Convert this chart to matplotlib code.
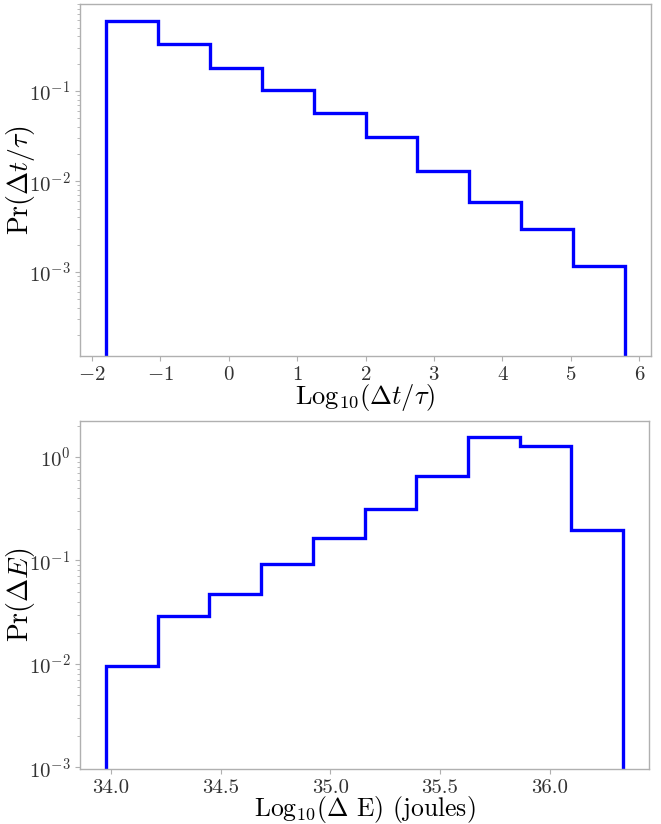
import matplotlib
matplotlib.use('Agg')
import matplotlib.pyplot as plt

# Histogram data (density, log scale)
dt_edges = [-1.79, -1.032, -0.274, 0.484, 1.242, 2.0, 2.758, 3.516, 4.274, 5.032, 5.79]
dt_pr = [0.593, 0.330, 0.179, 0.102, 0.0568, 0.0306, 0.0131, 0.00593, 0.00294, 0.00117]

de_edges = [33.977, 34.213, 34.449, 34.685, 34.921, 35.157, 35.392, 35.628, 35.864, 36.100, 36.336]
de_pr = [0.00963, 0.0290, 0.0469, 0.0915, 0.163, 0.311, 0.651, 1.54, 1.27, 0.198]

plt.rcParams['font.family'] = 'serif'
plt.rcParams['font.serif'] = ['cmr10']
plt.rcParams['mathtext.fontset'] = 'cm'
plt.rcParams['axes.formatter.use_mathtext'] = True
plt.rcParams['axes.unicode_minus'] = True

fig = plt.figure(figsize=(6.61, 8.24), dpi=100)
ax1 = fig.add_axes([0.121, 0.568, 0.864, 0.427])
ax2 = fig.add_axes([0.121, 0.0667, 0.861, 0.4226])

spine_color = '#b0b0b0'
for ax in (ax1, ax2):
    for s in ax.spines.values():
        s.set_color(spine_color)
        s.set_linewidth(1.0)
    ax.tick_params(which='major', length=3.5, width=0.8, color=spine_color,
                   labelsize=15, labelcolor='#333333')
    ax.tick_params(which='minor', length=2, width=0.6, color=spine_color)
    ax.tick_params(axis='x', which='minor', bottom=False)

# Gráfico de cima: intervalo entre eventos
ax1.stairs(dt_pr, dt_edges, baseline=0, fill=False, color='blue', linewidth=2.4)
ax1.set_yscale('log')
ax1.set_xlim(-2.17, 6.17)
ax1.set_ylim(10 ** -3.93, 10 ** -0.042)
ax1.set_xticks(range(-2, 7))
ax1.set_xlabel(r'$\mathrm{Log}_{10}(\Delta t/\tau)$', fontsize=19, labelpad=-1)
ax1.set_ylabel(r'$\mathrm{Pr}(\Delta t/\tau)$', fontsize=20)
ax1.yaxis.set_label_coords(-0.076, 0.5)

# Gráfico de baixo: energia
ax2.stairs(de_pr, de_edges, baseline=0, fill=False, color='blue', linewidth=2.4)
ax2.set_yscale('log')
ax2.set_xlim(33.859, 36.454)
ax2.set_ylim(10 ** -3.015, 10 ** 0.348)
ax2.set_xticks([34.0, 34.5, 35.0, 35.5, 36.0])
ax2.set_xticklabels(['34.0', '34.5', '35.0', '35.5', '36.0'])
ax2.set_xlabel(r'Log$_{10}$($\Delta$ E) (joules)', fontsize=18.5, labelpad=-2)
ax2.set_ylabel(r'$\mathrm{Pr}(\Delta E)$', fontsize=20)
ax2.yaxis.set_label_coords(-0.076, 0.5)

fig.savefig('out.png', dpi=100)
